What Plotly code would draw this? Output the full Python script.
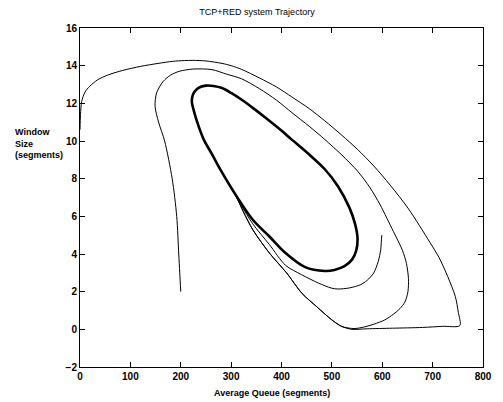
import plotly.graph_objects as go

# Trajectory starting at q=0 (outermost loop)
q_outer = [0, 1, 3.3, 10, 19, 35, 55, 85, 120, 155, 184, 207, 224, 250, 282, 300, 321, 356, 390, 421, 455, 486, 520, 551, 583, 616, 651, 674, 695, 713, 730, 745, 751, 754,
           720, 680, 620, 570, 540, 520, 500, 470, 441, 410, 376, 343, 324, 311, 295, 279]
w_outer = [10.6, 11.4, 12.1, 12.6, 12.9, 13.25, 13.5, 13.75, 13.96, 14.12, 14.23, 14.27, 14.28, 14.25, 14.12, 14.0, 13.8, 13.35, 12.87, 12.33, 11.72, 11.07, 10.3, 9.55, 8.68, 7.65, 6.44, 5.5, 4.6, 3.8, 2.8, 1.75, 0.9, 0.2,
           0.16, 0.1, 0.06, 0.03, 0.0, 0.15, 0.5, 1.2, 1.9, 3.0, 4.05, 5.29, 6.26, 7.0, 7.75, 8.47]

# Trajectory starting at (200, 2)
q_mid = [200, 198, 196, 192, 183, 168, 156, 149, 152, 165, 180, 197, 224, 262, 291, 321, 356, 390, 421, 455, 486, 520, 551, 575, 596, 622, 640, 648, 652, 651, 645, 635, 622, 605, 583, 560, 544,
         520, 500, 470, 441, 410, 376, 343, 324, 311, 295, 279]
w_mid = [2.0, 3.0, 4.0, 6.0, 8.0, 10.0, 11.0, 11.84, 12.55, 13.16, 13.5, 13.7, 13.82, 13.79, 13.55, 13.3, 12.78, 12.17, 11.5, 10.78, 10.08, 9.25, 8.4, 7.55, 6.6, 5.2, 4.2, 3.5, 2.7, 2.0, 1.45, 1.1, 0.8, 0.5, 0.27, 0.1, 0.04,
         0.15, 0.5, 1.2, 1.9, 3.0, 4.05, 5.29, 6.26, 7.0, 7.75, 8.47]

# Trajectory starting at (600, 5)
q_hook = [599, 598, 597, 592, 583, 570, 557, 535, 512, 499, 473, 440, 408, 376, 343, 311, 279]
w_hook = [5.0, 4.6, 4.23, 3.6, 2.99, 2.6, 2.37, 2.2, 2.14, 2.19, 2.46, 2.9, 3.4, 4.5, 5.6, 7.0, 8.47]

# Limit cycle (thick closed orbit)
q_cycle = [486, 447, 408, 376, 343, 311, 279, 262, 246, 234, 226, 222, 224, 230, 240, 250, 265, 282, 300, 321, 345, 369, 395, 421, 455, 486, 512, 535, 546, 551, 548, 540, 525, 505, 486]
w_cycle = [3.1, 3.3, 4.05, 4.93, 5.82, 7.06, 8.47, 9.3, 10.06, 10.9, 11.6, 12.1, 12.45, 12.7, 12.88, 12.94, 12.92, 12.81, 12.55, 12.19, 11.72, 11.22, 10.66, 10.06, 9.28, 8.5, 7.6, 6.45, 5.6, 4.8, 4.15, 3.7, 3.35, 3.15, 3.1]

x_ticks = [0, 100, 200, 300, 400, 500, 600, 700, 800]
y_ticks = [-2, 0, 2, 4, 6, 8, 10, 12, 14, 16]

fig = go.Figure()
line_thin = dict(color="black", width=1, shape="spline", smoothing=0.8)
fig.add_trace(go.Scatter(x=q_outer, y=w_outer, mode="lines", line=line_thin, showlegend=False))
fig.add_trace(go.Scatter(x=q_mid, y=w_mid, mode="lines", line=line_thin, showlegend=False))
fig.add_trace(go.Scatter(x=q_hook, y=w_hook, mode="lines", line=line_thin, showlegend=False))
fig.add_trace(go.Scatter(x=q_cycle, y=w_cycle, mode="lines",
                         line=dict(color="black", width=2.6, shape="spline", smoothing=0.9), showlegend=False))

axis_common = dict(showgrid=False, zeroline=False, showline=True, linecolor="black", linewidth=1,
                   mirror="ticks", ticks="inside", ticklen=5, tickcolor="black",
                   tickfont=dict(family="Liberation Sans, Arial", size=10, color="black", weight="bold"))
fig.update_xaxes(range=[0, 800], tickvals=x_ticks, **axis_common)
fig.update_yaxes(range=[-2, 16], tickvals=y_ticks, **axis_common)

# page body has an 8px margin, so the figure is offset by 8px
W, H = 495, 394
font_lbl = dict(family="Liberation Sans, Arial", size=9, color="black", weight="bold")
fig.update_layout(
    width=W, height=H,
    margin=dict(l=72, r=11, t=20, b=35),
    paper_bgcolor="white", plot_bgcolor="white",
    title=dict(text="TCP+RED system Trajectory", x=(257 - 8) / W, xanchor="center",
               y=1 - (12 - 8) / H, yanchor="middle", font=dict(family="Liberation Sans, Arial", size=9, color="black")),
    annotations=[
        dict(text="Window<br>Size<br>(segments)", xref="paper", yref="paper",
             x=(12 - 80) / 412, y=(367.3 - 144) / 339, xanchor="left", yanchor="middle",
             align="left", showarrow=False, font=font_lbl),
        dict(text="Average Queue (segments)", xref="paper", yref="paper",
             x=(276 - 80) / 412, y=(367.3 - 393) / 339, xanchor="center", yanchor="middle",
             showarrow=False, font=font_lbl),
    ],
)

fig.write_html("out.html")
